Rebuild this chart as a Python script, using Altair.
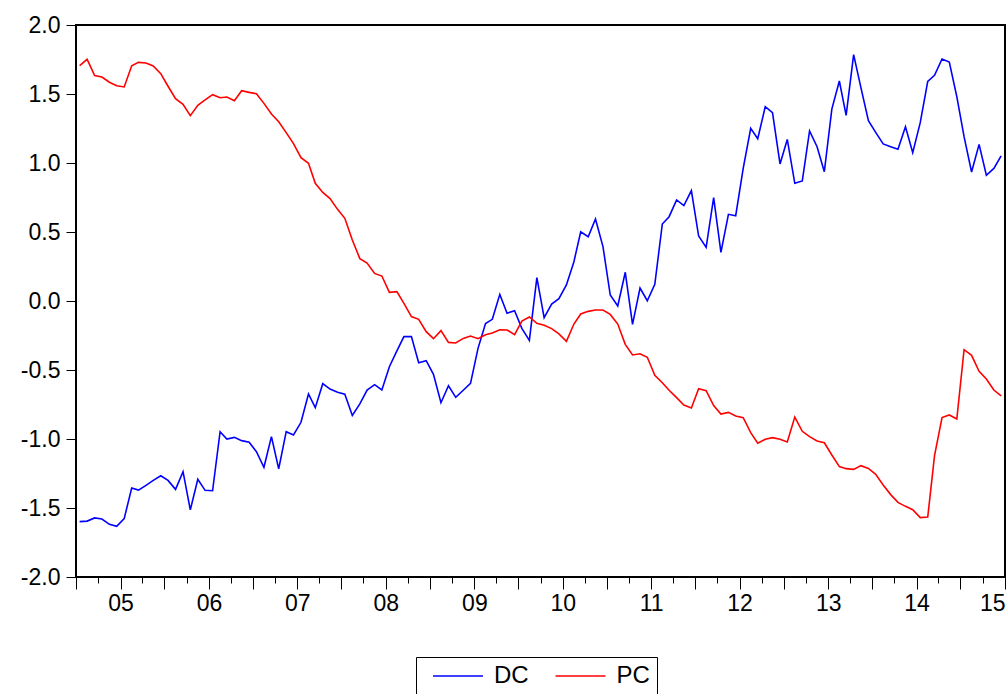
import altair as alt
import pandas as pd

# Monthly observations, 2004m7 - 2014m12
months = pd.date_range("2004-07-01", periods=126, freq="MS")

dc = [
    -1.599, -1.595, -1.572, -1.580, -1.618, -1.633, -1.577, -1.355, -1.370, -1.336,
    -1.300, -1.266, -1.300, -1.365, -1.237, -1.514, -1.292, -1.372, -1.375, -0.947,
    -1.000, -0.988, -1.012, -1.024, -1.092, -1.205, -0.983, -1.217, -0.947, -0.971,
    -0.879, -0.674, -0.773, -0.599, -0.638, -0.662, -0.676, -0.829, -0.746, -0.645,
    -0.606, -0.645, -0.476, -0.362, -0.258, -0.258, -0.447, -0.432, -0.531, -0.737,
    -0.614, -0.698, -0.647, -0.597, -0.343, -0.164, -0.133, 0.048, -0.089, -0.070,
    -0.198, -0.285, 0.169, -0.121, -0.022, 0.017, 0.116, 0.285, 0.502, 0.466,
    0.594, 0.394, 0.043, -0.036, 0.208, -0.169, 0.094, 0.002, 0.121, 0.558,
    0.611, 0.732, 0.691, 0.800, 0.471, 0.389, 0.749, 0.353, 0.628, 0.618,
    0.961, 1.251, 1.176, 1.408, 1.365, 0.993, 1.171, 0.853, 0.870, 1.232,
    1.118, 0.937, 1.391, 1.594, 1.345, 1.785, 1.546, 1.307, 1.222, 1.138,
    1.118, 1.099, 1.263, 1.075, 1.292, 1.592, 1.635, 1.754, 1.732, 1.481,
    1.191, 0.935, 1.135, 0.911, 0.961, 1.051,
]

pc = [
    1.705, 1.751, 1.633, 1.623, 1.585, 1.560, 1.551, 1.705, 1.729, 1.725,
    1.703, 1.647, 1.556, 1.466, 1.425, 1.343, 1.418, 1.457, 1.495, 1.473,
    1.478, 1.452, 1.524, 1.512, 1.502, 1.432, 1.355, 1.299, 1.220, 1.140,
    1.039, 0.998, 0.853, 0.787, 0.742, 0.664, 0.599, 0.442, 0.307, 0.275,
    0.200, 0.181, 0.063, 0.068, -0.017, -0.113, -0.133, -0.222, -0.273, -0.215,
    -0.300, -0.304, -0.271, -0.254, -0.273, -0.244, -0.232, -0.208, -0.210, -0.244,
    -0.145, -0.116, -0.162, -0.176, -0.200, -0.239, -0.292, -0.167, -0.094, -0.075,
    -0.065, -0.065, -0.097, -0.167, -0.314, -0.391, -0.382, -0.408, -0.539, -0.592,
    -0.647, -0.700, -0.754, -0.775, -0.635, -0.650, -0.758, -0.819, -0.807, -0.833,
    -0.845, -0.954, -1.031, -1.002, -0.990, -1.002, -1.022, -0.841, -0.944, -0.983,
    -1.014, -1.027, -1.116, -1.200, -1.215, -1.220, -1.193, -1.213, -1.256, -1.333,
    -1.403, -1.459, -1.488, -1.512, -1.570, -1.565, -1.121, -0.845, -0.826, -0.855,
    -0.353, -0.394, -0.510, -0.565, -0.645, -0.688,
]

series_names = ["DC", "PC"]
series_colors = ["#0000ff", "#ff0000"]
y_ticks = [-2.0, -1.5, -1.0, -0.5, 0.0, 0.5, 1.0, 1.5, 2.0]

# each monthly observation sits in the middle of its month
mid_month = months + pd.Timedelta(days=15)
df = pd.concat([
    pd.DataFrame({"month": mid_month, "series": "DC", "value": dc}),
    pd.DataFrame({"month": mid_month, "series": "PC", "value": pc}),
])

FONT = "Liberation Sans"

x_axis = alt.Axis(
    title=None,
    grid=False,
    domain=False,
    tickCount={"interval": "month", "step": 3},
    tickSize={"condition": {"test": "month(datum.value) % 6 == 0", "value": 12}, "value": 6},
    tickColor="black",
    tickWidth=1,
    labelExpr="month(datum.value) == 0 ? timeFormat(datum.value, '%y') : ''",
    labelFlush=True,
    labelOverlap=False,
    labelBound=False,
    labelFont=FONT,
    labelFontSize=23,
    labelColor="black",
    labelPadding=3,
)

y_axis = alt.Axis(
    title=None,
    grid=False,
    domain=False,
    values=y_ticks,
    tickSize=10,
    tickColor="black",
    tickWidth=1,
    labelExpr="(datum.value < 0 ? '-' : '') + format(abs(datum.value), '.1f')",
    labelFont=FONT,
    labelFontSize=23,
    labelColor="black",
    labelPadding=6,
)

# a short symbol box carrying a long horizontal stroke keeps the legend row compact
legend = alt.Legend(
    title=None,
    orient="none",
    direction="horizontal",
    legendX=340,
    legendY=632,
    strokeColor="black",
    padding=7,
    symbolType="M-5,0H5",
    symbolSize=100,
    symbolStrokeWidth=1.6,
    symbolOffset=23,
    columnPadding=16.5,
    labelOffset=24,
    labelFont=FONT,
    labelFontSize=24,
    labelColor="black",
)

chart = (
    alt.Chart(df)
    .mark_line(strokeWidth=1.6)
    .encode(
        x=alt.X(
            "month:T",
            axis=x_axis,
            scale=alt.Scale(
                domain=[
                    alt.DateTime(year=2004, month=7, date=1),
                    alt.DateTime(year=2015, month=1, date=1),
                ],
                nice=False,
            ),
        ),
        y=alt.Y("value:Q", axis=y_axis, scale=alt.Scale(domain=[-2, 2], nice=False, zero=False)),
        color=alt.Color(
            "series:N",
            scale=alt.Scale(domain=series_names, range=series_colors),
            legend=legend,
        ),
    )
    .properties(
        width=929,
        height=552,
        autosize=alt.AutoSizeParams(type="none"),
        padding={"left": 76, "top": 25, "right": 3, "bottom": 117},
        background="white",
    )
    .configure_view(stroke="black", strokeWidth=2)
)

chart.save("out.html", embed_options={"renderer": "svg", "actions": False})
